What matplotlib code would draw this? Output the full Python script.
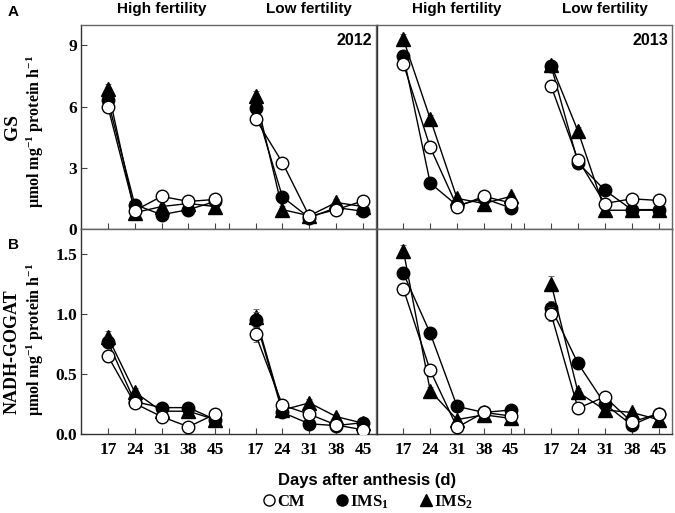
import matplotlib
matplotlib.use("Agg")
import matplotlib.pyplot as plt
from matplotlib.lines import Line2D
import numpy as np

plt.rcParams["mathtext.fontset"] = "custom"
plt.rcParams["mathtext.rm"] = "Liberation Serif:bold"
plt.rcParams["mathtext.bf"] = "Liberation Serif:bold"
plt.rcParams["mathtext.it"] = "Liberation Serif:bold"

SERIF = "Liberation Serif"
SANS = "Liberation Sans"

# ----------------------------
# Data (days 17..45, high fertility then low fertility)
# ----------------------------
days = ["17", "24", "31", "38", "45"]
groups = ["High fertility", "Low fertility"]
series = ["CM", "IMS$_1$", "IMS$_2$"]

# GS, 2012
gs12_cm = [6.0, 0.9, 1.6, 1.35, 1.45, 5.4, 3.25, 0.62, 0.95, 1.38]
gs12_ims1 = [6.3, 1.2, 0.7, 0.95, 1.35, 5.95, 1.57, 0.55, 1.05, 0.87]
gs12_ims2 = [6.85, 0.8, 1.1, 1.25, 1.1, 6.5, 0.95, 0.65, 1.3, 1.1]
# GS, 2013
gs13_cm = [8.1, 4.0, 1.1, 1.6, 1.28, 7.0, 3.4, 1.25, 1.48, 1.4]
gs13_ims1 = [8.5, 2.25, 1.15, 1.5, 1.03, 8.0, 3.25, 1.9, 0.95, 0.95]
gs13_ims2 = [9.3, 5.4, 1.5, 1.25, 1.6, 8.05, 4.8, 0.92, 0.92, 0.92]
# NADH-GOGAT, 2012
ng12_cm = [0.65, 0.255, 0.145, 0.06, 0.167, 0.83, 0.24, 0.165, 0.075, 0.035]
ng12_ims1 = [0.77, 0.27, 0.22, 0.22, 0.12, 0.955, 0.18, 0.085, 0.07, 0.095]
ng12_ims2 = [0.81, 0.35, 0.19, 0.19, 0.12, 0.98, 0.2, 0.26, 0.145, 0.09]
# NADH-GOGAT, 2013
ng13_cm = [1.21, 0.53, 0.055, 0.18, 0.15, 1.0, 0.215, 0.31, 0.1, 0.17]
ng13_ims1 = [1.34, 0.84, 0.23, 0.18, 0.2, 1.05, 0.59, 0.25, 0.075, 0.17]
ng13_ims2 = [1.53, 0.36, 0.12, 0.16, 0.13, 1.255, 0.35, 0.2, 0.18, 0.12]

# rough standard errors read from the small whiskers
gs_se = [0.25, 0.2, 0.15, 0.15, 0.15, 0.25, 0.2, 0.12, 0.15, 0.15]
ng_se = [0.05, 0.03, 0.02, 0.02, 0.02, 0.06, 0.03, 0.03, 0.02, 0.02]

# ----------------------------
# Layout
# ----------------------------
W, H = 675, 513
fig = plt.figure(figsize=(W / 100, H / 100), dpi=100)

def ax_rect(x0, x1, y0, y1):
    return [x0 / W, 1 - y1 / H, (x1 - x0) / W, (y1 - y0) / H]

ax_tl = fig.add_axes(ax_rect(81, 376.5, 25, 229))
ax_tr = fig.add_axes(ax_rect(376.5, 672, 25, 229))
ax_bl = fig.add_axes(ax_rect(81, 376.5, 229, 434))
ax_br = fig.add_axes(ax_rect(376.5, 672, 229, 434))

pos_high = np.arange(5)
pos_low = np.arange(5) + 5.5
xticks = list(pos_high) + [4.5] + list(pos_low)
xticklabels = days + [""] + days

styles = [
    dict(marker="o", mfc="white", mec="black", ms=9, zorder=5),
    dict(marker="o", mfc="black", mec="black", ms=9, zorder=4),
    dict(marker="^", mfc="black", mec="black", ms=10, zorder=3),
]

def draw(ax, vals, se, ylim, yticks, yticklabels, show_y, show_x):
    for v, st in zip(vals[::-1], styles[::-1]):
        v = np.array(v)
        for pos, sl in [(pos_high, slice(0, 5)), (pos_low, slice(5, 10))]:
            ax.errorbar(pos, v[sl], yerr=np.array(se)[sl], fmt="none",
                        ecolor="#555555", elinewidth=0.6, capsize=2,
                        capthick=0.6, zorder=st["zorder"] - 0.5)
            ax.plot(pos, v[sl], color="black", lw=1.0, mew=1.0, **st)
    ax.set_xlim(-1, 10)
    ax.set_ylim(*ylim)
    ax.set_xticks(xticks)
    ax.set_yticks(yticks)
    ax.tick_params(direction="in", length=4, width=0.8, color="#444444")
    if show_x:
        ax.set_xticklabels(xticklabels, fontfamily=SERIF, fontweight="bold",
                           fontsize=12.5)
        ax.tick_params(axis="x", pad=6)
    else:
        ax.set_xticklabels([])
    if show_y:
        ax.set_yticklabels(yticklabels, fontfamily=SERIF, fontweight="bold",
                           fontsize=12.5)
        ax.tick_params(axis="y", pad=3)
    else:
        ax.tick_params(axis="y", length=0)
        ax.set_yticklabels([])
    for s in ["left", "bottom"]:
        ax.spines[s].set_color("#333333")
        ax.spines[s].set_linewidth(1.0)
    for s in ["top", "right"]:
        ax.spines[s].set_color("#666666")
        ax.spines[s].set_linewidth(1.0)

gs_ticks = [0, 3, 6, 9]
gs_lab = ["0", "3", "6", "9"]
ng_ticks = [0, 0.5, 1.0, 1.5]
ng_lab = ["0.0", "0.5", "1.0", "1.5"]

draw(ax_tl, [gs12_cm, gs12_ims1, gs12_ims2], gs_se, (0, 10), gs_ticks, gs_lab, True, False)
draw(ax_tr, [gs13_cm, gs13_ims1, gs13_ims2], gs_se, (0, 10), gs_ticks, gs_lab, False, False)
draw(ax_bl, [ng12_cm, ng12_ims1, ng12_ims2], ng_se, (0, 1.71), ng_ticks, ng_lab, True, True)
draw(ax_br, [ng13_cm, ng13_ims1, ng13_ims2], ng_se, (0, 1.71), ng_ticks, ng_lab, False, True)

# group titles
for ax in (ax_tl, ax_tr):
    for g, xc in zip(groups, [2, 7.5]):
        ax.annotate(g, xy=(xc, 1 - 9 / H), xycoords=("data", "figure fraction"),
                    ha="center", va="center", fontfamily=SANS,
                    fontweight="bold", fontsize=11)

ax_tl.text(0.986, 0.926, "2012", transform=ax_tl.transAxes, ha="right",
           va="center", fontfamily=SANS, fontweight="bold", fontsize=11.5)
ax_tr.text(0.986, 0.926, "2013", transform=ax_tr.transAxes, ha="right",
           va="center", fontfamily=SANS, fontweight="bold", fontsize=11.5)

fig.text(8 / W, 1 - 12 / H, "A", fontfamily=SANS, fontweight="bold",
         fontsize=11, ha="left", va="center")
fig.text(8 / W, 1 - 245 / H, "B", fontfamily=SANS, fontweight="bold",
         fontsize=11, ha="left", va="center")

unit = r"µmol mg$^{\mathbf{-1}}$ protein h$^{\mathbf{-1}}$"
fig.text(12 / W, 1 - 127 / H, "GS", rotation=90, fontfamily=SERIF,
         fontweight="bold", fontsize=14, ha="center", va="center")
fig.text(35 / W, 1 - 131 / H, unit, rotation=90, fontfamily=SERIF,
         fontweight="bold", fontsize=11.5, ha="center", va="center")
fig.text(12 / W, 1 - 352 / H, "NADH-GOGAT", rotation=90, fontfamily=SERIF,
         fontweight="bold", fontsize=13, ha="center", va="center")
fig.text(35 / W, 1 - 339 / H, unit, rotation=90, fontfamily=SERIF,
         fontweight="bold", fontsize=11.5, ha="center", va="center")

fig.text(367 / W, 1 - 480 / H, "Days after anthesis (d)", fontfamily=SANS,
         fontweight="bold", fontsize=12, ha="center", va="center")

handles = [Line2D([], [], ls="none", marker=st["marker"], mfc=st["mfc"],
                  mec="black", ms=st["ms"] - 1) for st in styles]
fig.legend(handles, series, loc="center", bbox_to_anchor=(367 / W, 1 - 502 / H),
           ncol=3, frameon=False, handletextpad=0.0, columnspacing=1.7,
           handlelength=1.0, borderpad=0,
           prop={"family": SERIF, "weight": "bold", "size": 12})

fig.savefig("out.png", dpi=100)
